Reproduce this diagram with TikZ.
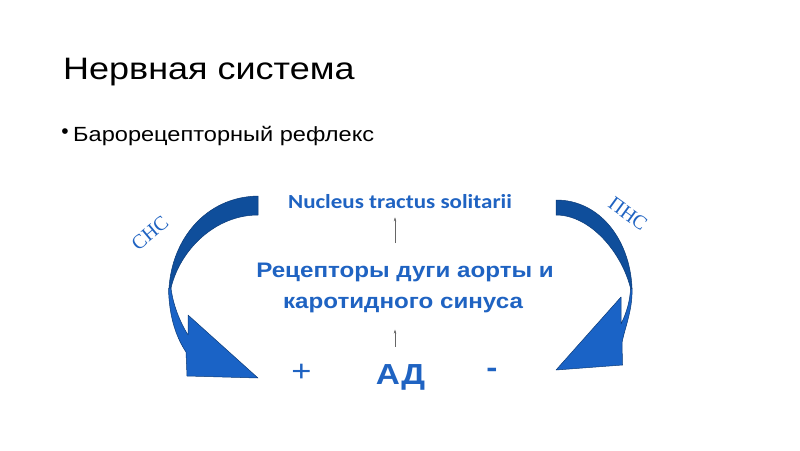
\documentclass[tikz,border=0pt]{standalone}
\usepackage{fontspec}
\setmainfont{Liberation Sans}
\newfontfamily\calfont{Carlito}
\newfontfamily\rufserif{Liberation Serif}
\usetikzlibrary{arrows.meta}
\definecolor{txtblue}{HTML}{1F63C2}
\definecolor{darkarr}{HTML}{0F4E9B}
\definecolor{lightarr}{HTML}{1A63C6}
\definecolor{edgearr}{HTML}{0A3A78}
\begin{document}
\begin{tikzpicture}[x=1pt,y=-1pt,
  txt/.style={inner sep=0pt, anchor=base, xscale=1.15},
  bluetxt/.style={txt, text=txtblue, font=\bfseries\fontsize{21}{25}\selectfont},
  darkpart/.style={fill=darkarr, draw=edgearr, line width=0.5pt, line join=round},
  lightpart/.style={fill=lightarr, draw=edgearr, line width=0.5pt, line join=round},
  conn/.style={draw=black!60, line width=0.5pt, -{Stealth[length=4pt,width=2.5pt]}},
  nslabel/.style={inner sep=0pt, text=txtblue, font=\rufserif\fontsize{20}{23}\selectfont}]
\fill[white] (0,0) rectangle (800,450);
\useasboundingbox (0,0) rectangle (800,450);

% title and bullet
\node[txt, anchor=base west, xscale=1.16/1.15, font=\fontsize{31}{36}\selectfont] (title) at (63,79) {Нервная система};
\node[inner sep=0pt, font=\fontsize{21}{25}\selectfont] (bul) at (65,134) {•};
\node[txt, anchor=base west, font=\fontsize{20.5}{25}\selectfont] (sub) at (73,141) {Барорецепторный рефлекс};

% central texts
\node[txt, text=txtblue, font=\calfont\bfseries\fontsize{20}{24}\selectfont] (nts) at (400,208) {Nucleus tractus solitarii};
\node[bluetxt] (rec1) at (405,277) {Рецепторы дуги аорты и};
\node[bluetxt] (rec2) at (403,308) {каротидного синуса};
\node[txt, text=txtblue, font=\bfseries\fontsize{29}{34}\selectfont] (ad) at (400.5,384) {АД};
\node[inner sep=0pt, xscale=1.15, text=txtblue, font=\fontsize{30}{34}\selectfont] (plus) at (301.5,373) {+};
\node[inner sep=0pt, xscale=1.15, text=txtblue, font=\bfseries\fontsize{29}{34}\selectfont] (minus) at (492,373) {-};

% small arrows
\coordinate (a1) at (395,243);
\coordinate (a2) at (395,346.5);
\draw[conn, shorten >=9pt] (a1) -- (a1 |- nts.south);
\draw[conn, shorten >=17pt] (a2) -- (a2 |- rec2.south);

% left curved arrow
\path[darkpart] (258,196) .. controls (205,197) and (172,240) .. (169,288)
  -- (171,288) .. controls (180,250) and (215,215) .. (258,215) -- cycle;
\path[lightpart] (168.5,288) .. controls (169,320) and (178,340) .. (186,352)
  -- (187,376) -- (258,378) -- (188,315) -- (188,335)
  .. controls (180,322) and (173,305) .. (171,288) -- cycle;

% right curved arrow
\path[darkpart] (556,200) .. controls (600,200) and (630,240) .. (632,288)
  -- (631,290) .. controls (622,252) and (590,215) .. (556,215) -- cycle;
\path[lightpart] (632,288) .. controls (633,310) and (624,330) .. (622,343)
  -- (622.5,365) -- (556,370) -- (621,297) -- (621,324)
  .. controls (627,312) and (630,300) .. (630.5,289) -- cycle;

% labels
\node[nslabel, rotate=40] (sns) at (150,233) {СНС};
\node[nslabel, rotate=-36] (pns) at (628,214) {ПНС};
\end{tikzpicture}
\end{document}
